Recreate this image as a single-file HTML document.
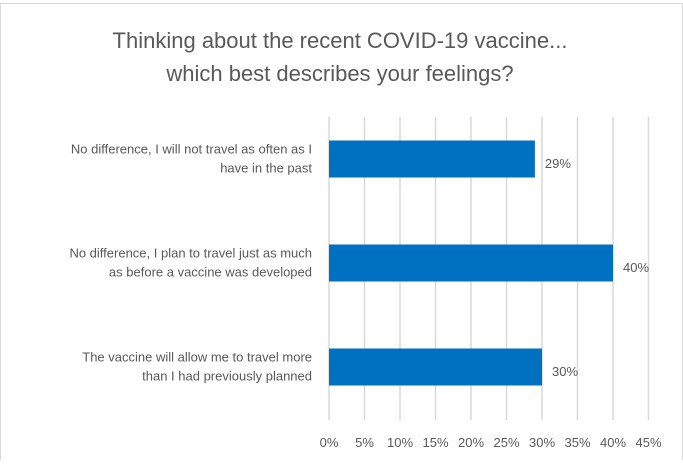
<!DOCTYPE html>
<html><head><meta charset="utf-8"><style>
body{margin:0;background:#fff;font-family:"Liberation Sans",sans-serif;}
svg text{font-family:"Liberation Sans",sans-serif;fill:#595959;}
</style></head><body>
<svg id="chart" width="683" height="460" xmlns="http://www.w3.org/2000/svg">
<rect x="0.5" y="3.5" width="682" height="460" fill="#fff" stroke="#d9d9d9"/>
<text x="340" y="48" font-size="22" text-anchor="middle">Thinking about the recent COVID-19 vaccine...</text>
<text x="340" y="81" font-size="22" text-anchor="middle">which best describes your feelings?</text>
<g id="grid"></g><g id="bars"></g><g id="labels"></g>
</svg>
<script>
const categories=[["No difference, I will not travel as often as I","have in the past"],["No difference, I plan to travel just as much","as before a vaccine was developed"],["The vaccine will allow me to travel more","than I had previously planned"]];
const values=[29,40,30];
const valueLabels=["29%","40%","30%"];
const ticks=[0,5,10,15,20,25,30,35,40,45];
const tickLabels=["0%","5%","10%","15%","20%","25%","30%","35%","40%","45%"];
const NS="http://www.w3.org/2000/svg";
const x0=329,pxPer=35.5/5,gTop=117,gBot=420,band=104,bandTop=107,barH=37;
const x=v=>x0+v*pxPer;
const y=i=>bandTop+i*band+(band-barH)/2;
function mk(t,a,p){const e=document.createElementNS(NS,t);for(const k in a)e.setAttribute(k,a[k]);p.appendChild(e);return e;}
const grid=document.getElementById('grid'),bars=document.getElementById('bars'),labels=document.getElementById('labels');
ticks.forEach((t,i)=>{
 const l=mk('line',{x1:x(t),x2:x(t),y1:gTop,y2:gBot,stroke:'#d9d9d9','stroke-width':1.5},grid);
 
 
 const tx=mk('text',{x:x(t),y:447,'font-size':13,'text-anchor':'middle'},grid);
 tx.textContent=tickLabels[i];
 
 
});
values.forEach((v,i)=>{
 const r=mk('rect',{x:x(0),y:y(i),width:x(v)-x(0),height:barH,fill:'#0070c0'},bars);
 
 
 const t=mk('text',{x:x(v)+10,y:y(i)+barH/2+9,'font-size':13},labels);
 t.textContent=valueLabels[i];
 
 
 categories[i].forEach((line,j)=>{
  const c=mk('text',{x:312,y:y(i)+13+j*19,'font-size':13,'text-anchor':'end'},labels);
  c.textContent=line;
  
  
 });
});
</script>
</body></html>
